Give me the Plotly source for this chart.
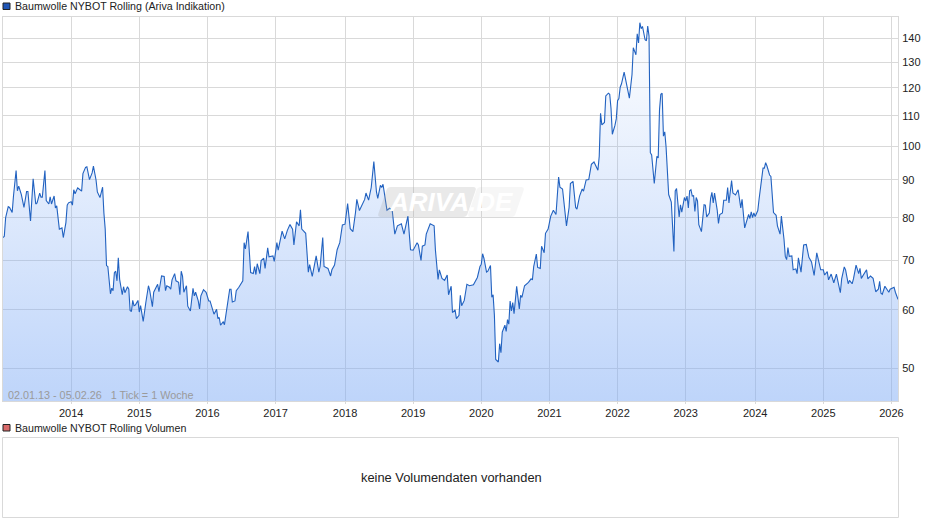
import datetime as dt
import plotly.graph_objects as go

START = dt.date(2013, 1, 2)
END = dt.date(2026, 2, 4)

week_no = [
0,1,2,4,5,7,8,10,11,12,
14,16,18,19,21,23,25,26,28,29,
30,32,33,35,36,37,39,40,41,42,
43,45,46,48,49,50,52,53,54,55,
57,58,60,61,63,64,66,68,69,71,
72,74,76,77,78,79,80,82,83,84,
85,86,87,88,89,91,92,93,95,96,
97,98,99,100,101,103,104,105,107,109,
111,112,114,115,118,119,121,123,124,125,
127,128,129,131,132,134,135,136,137,138,
140,141,143,145,146,147,149,150,151,153,
155,157,158,161,163,164,165,166,168,169,
171,173,174,175,177,178,180,181,183,184,
185,187,188,189,191,192,193,194,196,197,
199,200,202,203,206,207,209,210,213,215,
217,219,221,222,224,226,227,228,231,233,
234,236,239,241,242,244,245,248,250,251,
253,255,257,259,261,263,265,267,269,270,
272,276,277,279,281,283,285,286,288,289,
290,291,293,295,297,299,301,304,306,309,
311,313,316,317,319,320,322,323,326,329,
330,332,333,335,337,339,340,342,343,345,
346,348,349,350,352,354,356,359,362,364,
365,366,367,369,370,372,373,374,375,376,
378,379,380,381,383,384,385,386,387,388,
389,390,392,394,395,396,398,401,403,404,
405,407,408,410,411,413,414,416,418,420,
422,424,425,427,428,430,432,433,435,437,
438,440,442,443,445,447,449,451,454,455,
456,457,459,460,462,463,464,465,467,
468,469,470,471,472,474,476,478,480,481,
483,484,485,486,487,488,490,491,492,493,
494,495,497,499,500,501,502,503,504,505,
506,508,510,512,513,514,516,517,518,520,
521,522,523,524,525,526,527,528,529,530,
531,533,535,536,537,539,540,541,542,543,
545,546,547,549,550,552,553,554,556,557,
559,561,563,564,566,568,569,570,571,572,
573,574,576,577,578,580,581,582,583,585,
586,587,588,590,591,593,594,596,597,598,
599,600,602,603,605,606,607,609,611,613,
615,617,619,621,623,624,626,627,629,630,
632,634,636,637,639,640,642,643,645,646,
648,649,651,653,654,655,659,660,662,664,
666,668,669,670,671,673,676,677,680,681,683,
]

price = [
75.2,75.5,80,82.8,82.6,81.3,85.6,92.7,87,88.3,
86,82.6,86.8,86.8,79.2,90.3,83.5,83.8,86.4,85.3,
85.3,92.7,84.4,83.5,85.4,83.5,85.6,82.5,83,79.2,
77.2,77.5,75.2,78.8,83.2,83.8,84.1,83.2,87.3,86.2,
87.8,87.5,86.9,91.8,93.6,93.8,90.1,92,94,90,
86.7,85.2,88,81.2,77.2,68.9,68.7,63.1,64.2,63.7,
67.4,67.7,65.7,70.6,66,62.9,64.5,63.3,64.5,64,
59.9,59.7,61.8,60.8,60.9,61.8,59.6,60.8,57.9,61.4,
64.7,63.7,60.6,63.4,65,63.5,66.7,66.6,63.7,64.7,
64.4,64,65.9,67.2,65.7,65.4,62.9,67.7,66.7,63.4,
64.7,60.7,59.8,64.2,62.7,63.4,61.7,60.2,62.7,63.9,
63.4,61.7,61.7,59.2,60.1,58.4,58.6,57.2,57.8,57.3,
60.4,64,64,61.5,61.7,63.7,64.4,64.9,65.7,74,
72.6,76.6,71.7,67.4,67.2,68.7,67,69.3,67.2,70,
70.5,68.3,72.8,70.8,71,69.8,74,72.3,76.7,74.9,
76.9,78.3,77.2,73.5,79,78,82,77.2,76.2,67.5,
69.1,66.6,71,67.5,68.7,75.2,68.7,68.3,66.7,68,
69,72.4,74,78.2,78.4,83.6,77.3,76.6,81.3,84.7,
81.8,84.7,86.4,84.5,87.9,95.3,86.7,85,88.5,87.9,
88.8,86,81.9,82.4,81.9,76,78,78.5,76,80.4,
72.4,72.3,74,73.5,70,73.2,73.5,76,78.5,78,
72.3,66,68,66.2,65.8,66.9,62.9,64.6,59.5,60,
58.4,59,62.8,60.8,61.8,65,64.7,64.9,66.4,68.7,
69.2,71.5,70.5,67.5,67.7,68.9,62.4,62.9,59,51.4,
51,54,52.5,56,57.2,56.1,58.2,57.4,61.7,59.8,
61.4,59.3,64.6,60.2,62.8,62.4,64.7,65.4,66.1,65.9,
68.7,71.4,68.5,68.3,73.2,71.7,76.2,77.2,80.4,81.9,
80.8,90.8,88,87.5,84.4,78,82.6,89,89.6,82.6,
82.2,85.6,87.5,86.9,90,90.1,94.5,95.2,92.8,96.9,
110.8,106.9,107.7,117,118,117.6,112.5,103.8,106.7,
108.9,115.3,116,120.2,121.5,126,121,116.2,125,136,
133,142,138,147,144.3,145.3,139.4,139,145.5,141,
98,97.3,89,96.9,96.4,112,117.6,118,103.2,104.6,
99.8,86,84,72,87,87.6,80.2,83.3,81.4,85.2,
84.3,85.6,82.5,87,87.3,85.6,85.7,81.6,85.2,84.3,
78.3,76.6,83.3,83.2,80.2,81.2,85,86.6,83.8,86.4,
82,78.6,80.8,81.2,84.5,84.5,87.9,83.8,89.8,86.4,
85.9,87.3,82.5,84.7,77.5,79.5,80.8,79.8,81.5,80,
81.2,80.3,81.8,84.8,87.4,93.4,93.4,95,94,91.4,
91,84.8,81.3,80.6,78,76,80.4,74.8,70.9,70.2,
72.9,70.9,71,68,68.2,67.2,70.6,67.5,73.5,73.6,
70.7,69.7,66.8,71.7,69.4,68,68,66.9,67.6,65.9,
67.1,65.3,67.1,65.6,63.3,66.1,68.6,68,65.1,65.8,
65.1,66.1,69,67.2,68.3,66.2,68,66.1,66.7,66.2,
63.5,64,65.6,63.2,63,64.6,63.4,64,64.4,63.4,62,
]

assert len(week_no) == len(price)

year_ticks = ["2014-01-01","2014-12-31","2015-12-30","2016-12-28","2018-01-03","2019-01-02",
              "2020-01-01","2020-12-30","2021-12-29","2022-12-28","2024-01-03","2025-01-01","2025-12-31"]
year_labels = ["2014","2015","2016","2017","2018","2019","2020","2021","2022","2023","2024","2025","2026"]
price_ticks = [50,60,70,80,90,100,110,120,130,140]

dates = [START + dt.timedelta(weeks=w) for w in week_no]

W, H = 940, 526
L, R, T, B = 3, 898, 17, 401
FONT = "Liberation Sans"
GRID = "#D9D9D9"

def px(x): return (x - L) / (R - L)
def py(y): return (B - y) / (B - T)

fig = go.Figure(go.Scatter(
    x=dates, y=price, mode="lines",
    line=dict(color="#2262C0", width=1.1),
    fill="tozeroy",
    fillgradient=dict(type="vertical", start=45.1, stop=149.5,
                      colorscale=[[0, "rgba(125,170,245,0.5)"], [1, "rgba(125,170,245,0.0)"]]),
    hoverinfo="skip", showlegend=False, cliponaxis=True,
))

shapes = [
    dict(type="rect", xref="paper", yref="paper", x0=px(3), x1=px(10), y0=py(3), y1=py(9.5),
         fillcolor="#1F55B5", line=dict(color="#222", width=1)),
    dict(type="rect", xref="paper", yref="paper", x0=px(3), x1=px(10), y0=py(424.5), y1=py(431),
         fillcolor="#D96A6A", line=dict(color="#222", width=1)),
    dict(type="rect", xref="paper", yref="paper", x0=px(2.5), x1=px(898.5), y0=py(437.5), y1=py(517.5),
         fillcolor="white", line=dict(color=GRID, width=1)),
]

def wm_path(x0, x1, y0, y1, skew=10, r=4):
    a, b = px(x0), px(x1)
    s, c = px(x0 + skew) - px(x0), px(x0 + r) - px(x0)
    top, bot = py(y0), py(y1)
    d = py(y0) - py(y0 + r)
    return (f"M {a+c} {bot} Q {a} {bot} {a+c*0.4} {bot+d} L {a+s-c*0.2} {top-d} Q {a+s} {top} {a+s+c} {top} "
            f"L {b-c} {top} Q {b} {top} {b-c*0.4} {top-d} L {b-s+c*0.2} {bot+d} Q {b-s} {bot} {b-s-c} {bot} Z")

shapes.append(dict(type="path", xref="paper", yref="paper", layer="above",
                   path=wm_path(377, 477, 187, 217), fillcolor="rgba(165,165,165,0.24)", line=dict(width=0)))
shapes.append(dict(type="path", xref="paper", yref="paper", layer="above",
                   path=wm_path(467, 525, 187, 217), fillcolor="rgba(185,185,185,0.13)", line=dict(width=0)))

def note(x, y, text, size=10.65, color="#222", anchor="left", **kw):
    return dict(x=px(x), y=py(y), xref="paper", yref="paper", text=text, showarrow=False,
                xanchor=anchor, yanchor="middle", font=dict(family=FONT, size=size, color=color), **kw)

annotations = [
    note(13, 6, "Baumwolle NYBOT Rolling (Ariva Indikation)"),
    note(13, 428, "Baumwolle NYBOT Rolling Volumen"),
    note(451, 477, "keine Volumendaten vorhanden", size=12.85, anchor="center"),
    note(6, 395, "02.01.13 - 05.02.26 &nbsp; 1 Tick = 1 Woche", size=10.8, color="#9A9A9A"),
    note(451, 202, "<b><i>ARIVA.DE</i></b>", size=26, color="rgba(255,255,255,1)", anchor="center"),
]

fig.update_layout(
    width=W, height=H,
    margin=dict(l=L, r=W - R, t=T, b=H - B, pad=0),
    paper_bgcolor="white", plot_bgcolor="white",
    font=dict(family=FONT, size=11, color="#222"),
    shapes=shapes, annotations=annotations,
    xaxis=dict(type="date", range=[START.isoformat(), END.isoformat()],
               tickmode="array", tickvals=year_ticks, ticktext=year_labels,
               tickangle=0, ticks="outside", ticklen=2, tickcolor=GRID,
               showgrid=True, gridcolor=GRID, gridwidth=1,
               showline=True, linecolor=GRID, mirror=True, zeroline=False),
    yaxis=dict(type="log", side="right", range=[1.6547, 2.1751],
               tickmode="array", tickvals=price_ticks, ticktext=[str(v) for v in price_ticks],
               ticks="", ticklabelstandoff=1, showgrid=True, gridcolor=GRID, gridwidth=1,
               showline=True, linecolor=GRID, mirror=True, zeroline=False),
)

fig.write_html("out.html", config=dict(displayModeBar=False),
               post_script="document.body.style.margin='0';document.body.style.overflow='hidden';")
